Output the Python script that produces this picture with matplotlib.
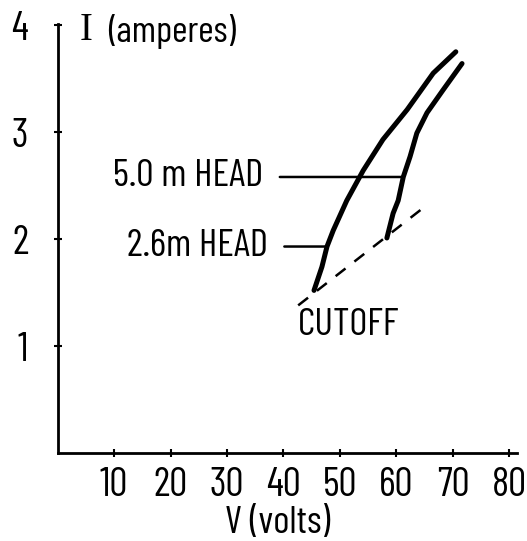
import numpy as np
import matplotlib.pyplot as plt

# values
v_low = [45.4, 46.8, 47.7, 48.8, 51.2, 54.1, 57.6, 61.9, 66.5, 70.5]   # 2.6 m head
i_low = [1.52, 1.74, 1.93, 2.08, 2.36, 2.64, 2.93, 3.21, 3.55, 3.75]
v_high = [58.3, 59.4, 60.3, 61.2, 62.4, 63.6, 65.4, 68.2, 71.6]        # 5.0 m head
i_high = [2.01, 2.24, 2.36, 2.58, 2.77, 2.99, 3.18, 3.39, 3.64]
v_cut = [42.6, 64.7]
i_cut = [1.38, 2.29]
x_ticks = [10, 20, 30, 40, 50, 60, 70, 80]
y_ticks = [1, 2, 3, 4]

narrow = ['Barlow Condensed', 'DejaVu Sans']
plt.rcParams['font.family'] = narrow

fig = plt.figure(figsize=(5.27, 5.41), dpi=100)
ax = fig.add_axes([0, 0, 1, 1])
ax.set_xlim(-10.18, 83.1)
ax.set_ylim(-0.822, 4.234)

# axes drawn like the hand sketch: only left + bottom, meeting at the origin
for s in ['top', 'right']:
    ax.spines[s].set_visible(False)
ax.spines['left'].set_position(('data', 0))
ax.spines['bottom'].set_position(('data', 0))
ax.spines['left'].set_bounds(0, 4.01)
ax.spines['bottom'].set_bounds(0, 81.4)
ax.spines['left'].set_linewidth(2)
ax.spines['bottom'].set_linewidth(2)
ax.set_xticks(x_ticks)
ax.set_yticks(y_ticks)
ax.tick_params(axis='both', direction='inout', length=6, width=1.5, labelsize=29)
ax.tick_params(axis='x', pad=7)
ax.tick_params(axis='y', pad=18)
ax.patch.set_alpha(0)

ax.plot(v_low, i_low, color='black', lw=3.6, solid_capstyle='round')
ax.plot(v_high, i_high, color='black', lw=3.6, solid_capstyle='round')
ax.plot(v_cut, i_cut, color='black', lw=1.8, linestyle=(0, (5, 4.5)))

# curve labels with leader lines
ax.annotate('5.0 m HEAD', xy=(v_high[3], i_high[3]), xytext=(36.4, i_high[3]),
            ha='right', va='center', fontsize=28,
            arrowprops=dict(arrowstyle='-', lw=1.8, color='black',
                            relpos=(1, 0.5), shrinkA=10, shrinkB=0))
ax.annotate('2.6m HEAD', xy=(47.6, 1.93), xytext=(37.2, 1.93),
            ha='right', va='center', fontsize=28,
            arrowprops=dict(arrowstyle='-', lw=1.8, color='black',
                            relpos=(1, 0.5), shrinkA=10, shrinkB=0))
ax.text(42.6, 1.19, 'CUTOFF', ha='left', va='center', fontsize=28)

# axis titles
ax.text(3.9, 3.95, 'I', family=['Liberation Serif', 'DejaVu Serif'],
        fontsize=28, ha='left', va='center')
ax.text(8.9, 3.94, '(amperes)', fontsize=27, ha='left', va='center')
ax.text(38.9, -0.66, 'V (volts)', fontsize=28, ha='center', va='center')

fig.savefig('out.png', dpi=100)
